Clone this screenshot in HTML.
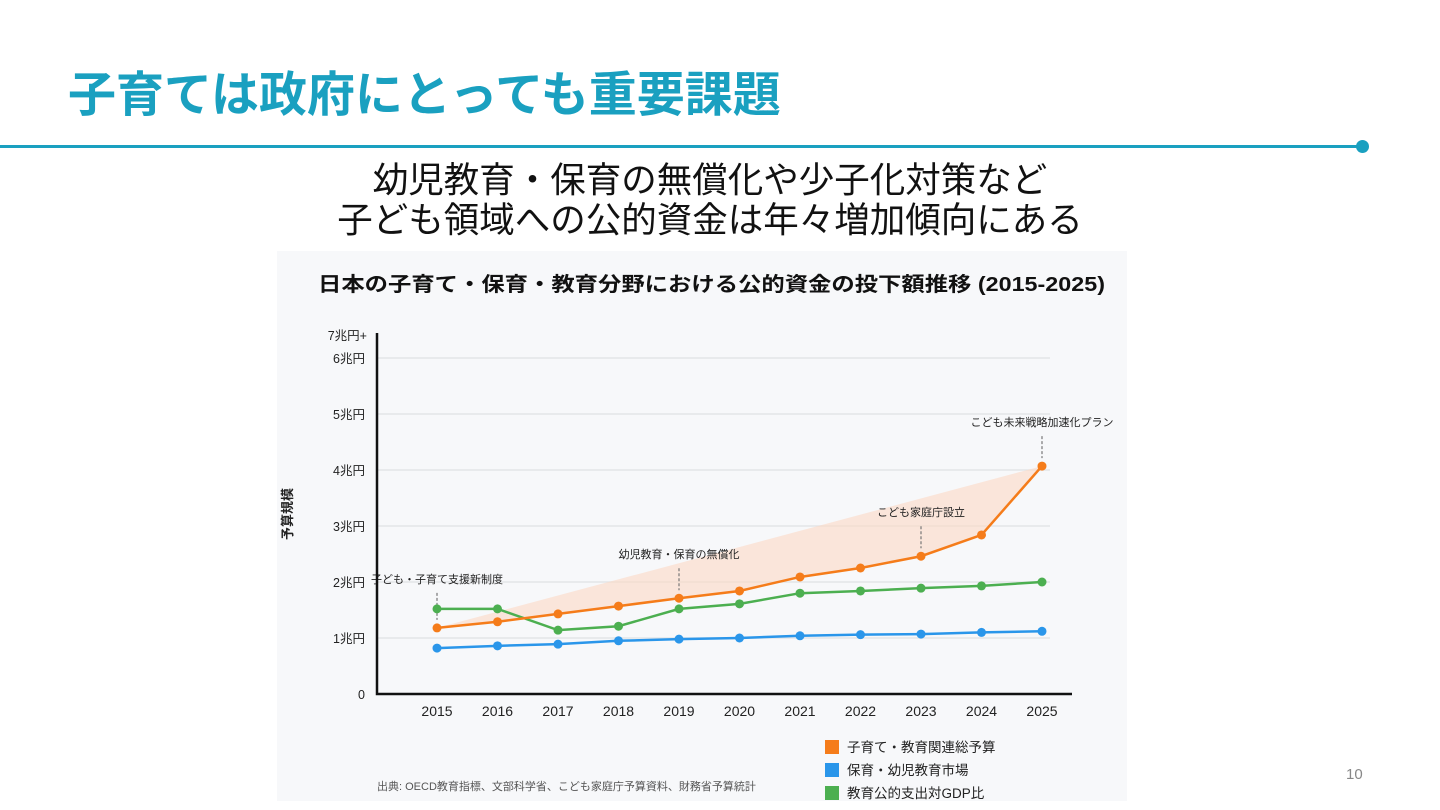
<!DOCTYPE html>
<html><head><meta charset="utf-8"><style>
body{margin:0;width:1440px;height:810px;background:#fff;overflow:hidden;position:relative;font-family:"Liberation Sans","Noto Sans CJK JP",sans-serif}
.t{position:absolute;white-space:nowrap}
</style></head><body>
<div class="t" style="left:68px;top:68px;font-size:48px;line-height:56px;font-weight:bold;color:#1aa0c0">子育ては政府にとっても重要課題</div>
<div style="position:absolute;left:0;top:145px;width:1362px;height:3px;background:#1aa0c0"></div>
<div style="position:absolute;left:1356px;top:140px;width:13px;height:13px;border-radius:50%;background:#1aa0c0"></div>
<div class="t" style="left:0;width:1420px;top:160px;text-align:center;font-size:35.5px;line-height:40px;color:#111">幼児教育・保育の無償化や少子化対策など<br>子ども領域への公的資金は年々増加傾向にある</div>
<div class="t" style="left:1346px;top:766px;font-size:15px;color:#888">10</div>
<div style="position:absolute;left:277px;top:251px;width:850px;height:550px;background:#f7f8fa"></div>
<svg id="c" width="1440" height="810" style="position:absolute;left:0;top:0" font-family="Liberation Sans, Noto Sans CJK JP, sans-serif"></svg>
<script>
const years=[2015,2016,2017,2018,2019,2020,2021,2022,2023,2024,2025];
const totalBudget=[1.18,1.29,1.43,1.57,1.71,1.84,2.09,2.25,2.46,2.84,4.07];
const nurseryMarket=[0.82,0.86,0.89,0.95,0.98,1.0,1.04,1.06,1.07,1.1,1.12];
const gdpRatio=[1.52,1.52,1.14,1.21,1.52,1.61,1.80,1.84,1.89,1.93,2.0];
const yTicks=[0,1,2,3,4,5,6];
const yTickLabels=["0","1兆円","2兆円","3兆円","4兆円","5兆円","6兆円"];
const events=[{i:0,t:"子ども・子育て支援新制度",s:"gdp"},{i:4,t:"幼児教育・保育の無償化",s:"tot"},{i:8,t:"こども家庭庁設立",s:"tot"},{i:10,t:"こども未来戦略加速化プラン",s:"tot"}];
const svg=document.getElementById('c'),NS='http://www.w3.org/2000/svg';
const X=i=>437+i*60.5, Y=v=>694-v*56;
function el(tag,a,txt){const e=document.createElementNS(NS,tag);for(const k in a)e.setAttribute(k,a[k]);if(txt!=null)e.textContent=txt;svg.appendChild(e);return e;}
let e=el('text',{x:318,y:291,'font-size':20,'font-weight':'bold',fill:'#111',textLength:787,lengthAdjust:'spacingAndGlyphs'},'日本の子育て・保育・教育分野における公的資金の投下額推移 (2015-2025)');


yTicks.forEach((v,k)=>{
 if(v>0){e=el('line',{x1:378,x2:1050,y1:Y(v),y2:Y(v),stroke:'#e4e5e8','stroke-width':1.5});
 
 }
 e=el('text',{x:365,y:Y(v)+5,'text-anchor':'end','font-size':12.5,fill:'#222'},yTickLabels[k]);
 
 
});
e=el('text',{x:367,y:340,'text-anchor':'end','font-size':12.5,fill:'#222'},'7兆円+');


e=el('text',{x:0,y:0,'font-size':13,'font-weight':'bold',fill:'#222','text-anchor':'middle',transform:'translate(292,514) rotate(-90)'},'予算規模');


years.forEach((y,i)=>{e=el('text',{x:X(i),y:716,'text-anchor':'middle','font-size':14,fill:'#222'},y);
 
 });
let pts=`${X(0)},${Y(totalBudget[0])} ${X(10)},${Y(totalBudget[10])} `+totalBudget.map((v,i)=>`${X(i)},${Y(v)}`).reverse().join(' ');
e=el('polygon',{points:pts,fill:'#fbd9c4','fill-opacity':0.6});


events.forEach(ev=>{
 const v=ev.s==='gdp'?gdpRatio[ev.i]:totalBudget[ev.i];
 const yp=Y(v), top=ev.i===0?Y(v)-16:Y(v)-30;
 const y1=ev.i===0?Y(totalBudget[0])-8:yp-8;
 e=el('line',{x1:X(ev.i),x2:X(ev.i),y1:top,y2:y1,stroke:'#777','stroke-dasharray':'3,2','stroke-width':1.2});
 
 
 e=el('text',{x:X(ev.i),y:top-10,'text-anchor':'middle','font-size':11,fill:'#222'},ev.t);
 
 
});
function series(d,c,name){
 e=el('polyline',{points:d.map((v,i)=>`${X(i)},${Y(v)}`).join(' '),fill:'none',stroke:c,'stroke-width':2.5});
 
 
 d.forEach((v,i)=>{e=el('circle',{cx:X(i),cy:Y(v),r:4.5,fill:c});
 
 });
}
series(nurseryMarket,'#2a96ea','nursery-market');
series(gdpRatio,'#4caf50','gdp-ratio');
series(totalBudget,'#f57c1a','total-budget');
e=el('polyline',{points:'377,333 377,694 1072,694',fill:'none',stroke:'#111','stroke-width':2.5});


const legend=[['子育て・教育関連総予算','#f57c1a'],['保育・幼児教育市場','#2a96ea'],['教育公的支出対GDP比','#4caf50']];
legend.forEach((l,k)=>{
 e=el('rect',{x:825,y:740+k*23,width:14,height:14,fill:l[1]});
 
 
 e=el('text',{x:847,y:752+k*23,'font-size':13.5,fill:'#222'},l[0]);
 
 
});
e=el('text',{x:377,y:790,'font-size':11,fill:'#555'},'出典: OECD教育指標、文部科学省、こども家庭庁予算資料、財務省予算統計');


</script>
</body></html>
